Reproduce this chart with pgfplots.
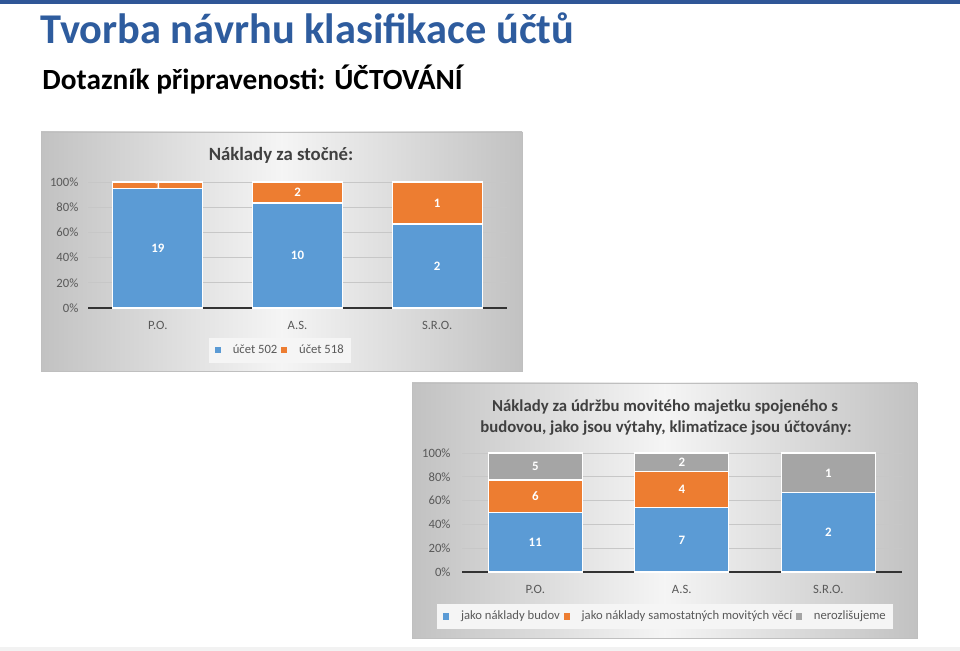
\documentclass[border=0pt]{standalone}
\usepackage{pgfplots}
\pgfplotsset{compat=1.18}
\usepackage{pgfplotstable}
\usepackage{fontspec}
\setmainfont{Carlito}
\definecolor{slideblue}{RGB}{47,86,151}
\definecolor{titleblue}{RGB}{46,92,158}
\definecolor{xlblue}{RGB}{91,155,213}
\definecolor{xlorange}{RGB}{237,125,49}
\definecolor{xlgray}{RGB}{165,165,165}
\definecolor{txtgray}{RGB}{89,89,89}
\definecolor{ttlgray}{RGB}{64,64,64}

% share of answers in %, n = number of answers shown on the bar
\pgfplotstableread{
x pct n
0 95.00 19
1 83.33 10
2 66.67 2
}\stocA
\pgfplotstableread{
x pct n
0 5.00 1
1 16.67 2
2 33.33 1
}\stocB
\pgfplotstableread{
x pct n
0 50.00 11
1 53.85 7
2 66.67 2
}\udrA
\pgfplotstableread{
x pct n
0 27.27 6
1 30.77 4
2 0.00 {}
}\udrB
\pgfplotstableread{
x pct n
0 22.73 5
1 15.38 2
2 33.33 1
}\udrC

\pgfplotsset{
 xlchart/.style={
  scale only axis, ybar stacked, clip=false,
  ymin=0, ymax=100, xmin=-0.5, xmax=2.5,
  xtick={0,1,2}, xticklabels={P.O.,A.S.,S.R.O.},
  ytick={0,20,...,100}, yticklabel={\pgfmathprintnumber{\tick}\%},
  /pgf/number format/assume math mode=true,
  axis x line*=bottom, axis y line*=left,
  x axis line style={black!80, line width=0.9pt, -},
  y axis line style={draw=none},
  major tick length=0pt,
  ymajorgrids, grid style={black!22, line width=0.4pt},
  ticklabel style={font=\fontsize{5.4}{6}\selectfont, text=txtgray},
  xticklabel style={anchor=center, yshift=-7.3pt},
  yticklabel style={anchor=east},
  legend columns=-1,
  legend style={draw=none, fill=black!4, font=\fontsize{5.4}{6}\selectfont,
   text=txtgray, anchor=center, inner xsep=2.5pt, inner ysep=2.2pt,
   nodes={inner sep=0.6pt},
   /tikz/every even column/.append style={column sep=1pt},
   /tikz/every odd column/.append style={column sep=4.5pt}},
  legend image code/.code={\fill[#1,draw=none] (0pt,-1.3pt) rectangle (2.6pt,1.3pt);},
  nodes near coords, point meta=explicit symbolic,
  every node near coord/.append style={font=\bfseries\fontsize{5.5}{6}\selectfont,
   text=white, anchor=center},
 },
}

\begin{document}
\begin{tikzpicture}[x=0.015cm,y=0.015cm]
\fill[white] (0,0) rectangle (960,651);
\fill[slideblue] (0,647) rectangle (960,651);
\fill[black!5] (0,0) rectangle (960,4);

\node[anchor=base west, inner sep=0, text=titleblue,
 font=\bfseries\fontsize{18.1}{20}\selectfont] at (40,607) {Tvorba návrhu klasifikace účtů};
\node[anchor=base west, inner sep=0, text=black,
 font=\bfseries\fontsize{12.5}{14}\selectfont] at (42,561) {Dotazník připravenosti: ÚČTOVÁNÍ};

% chart 1 background
\shade[left color=black!24, right color=black!24, middle color=black!4]
 (41,280) rectangle (522,519);
\draw[black!25, line width=0.3pt] (41,280) rectangle (522,519);
\node[anchor=base, text=ttlgray, font=\bfseries\fontsize{8}{9}\selectfont] at (281,490) {Náklady za stočné:};

% plot area: x 88..507 px, y 343..469 px (0.015 cm per px)
\begin{axis}[xlchart, at={(1.32cm,5.145cm)}, anchor=south west,
 width=6.285cm, height=1.89cm, bar width=1.35cm,
 yticklabel style={xshift=-0.6pt},
 legend style={at={(0.458,-0.337)}}]
\addplot[fill=xlblue, draw=white, line width=0.5pt] table[x=x, y=pct, meta=n] {\stocA};
\addplot[fill=xlorange, draw=white, line width=0.5pt] table[x=x, y=pct, meta=n] {\stocB};
\legend{účet 502, účet 518}
\end{axis}

% chart 2 background
\shade[left color=black!24, right color=black!24, middle color=black!4]
 (412,13) rectangle (917,268);
\draw[black!25, line width=0.3pt] (412,13) rectangle (917,268);
\node[anchor=base, text=ttlgray, font=\bfseries\fontsize{7.15}{8}\selectfont] at (665,239)
 {Náklady za údržbu movitého majetku spojeného s};
\node[anchor=base, text=ttlgray, font=\bfseries\fontsize{7.15}{8}\selectfont] at (666,218)
 {budovou, jako jsou výtahy, klimatizace jsou účtovány:};

% plot area: x 462..901.5 px, y 79..198 px
\begin{axis}[xlchart, at={(6.93cm,1.185cm)}, anchor=south west,
 width=6.5925cm, height=1.785cm, bar width=1.41cm,
 yticklabel style={xshift=-1.4pt},
 legend style={at={(0.462,-0.374)}}]
\addplot[fill=xlblue, draw=white, line width=0.5pt] table[x=x, y=pct, meta=n] {\udrA};
\addplot[fill=xlorange, draw=white, line width=0.5pt] table[x=x, y=pct, meta=n] {\udrB};
\addplot[fill=xlgray, draw=white, line width=0.5pt] table[x=x, y=pct, meta=n] {\udrC};
\legend{jako náklady budov, jako náklady samostatných movitých věcí, nerozlišujeme}
\end{axis}
\end{tikzpicture}
\end{document}
